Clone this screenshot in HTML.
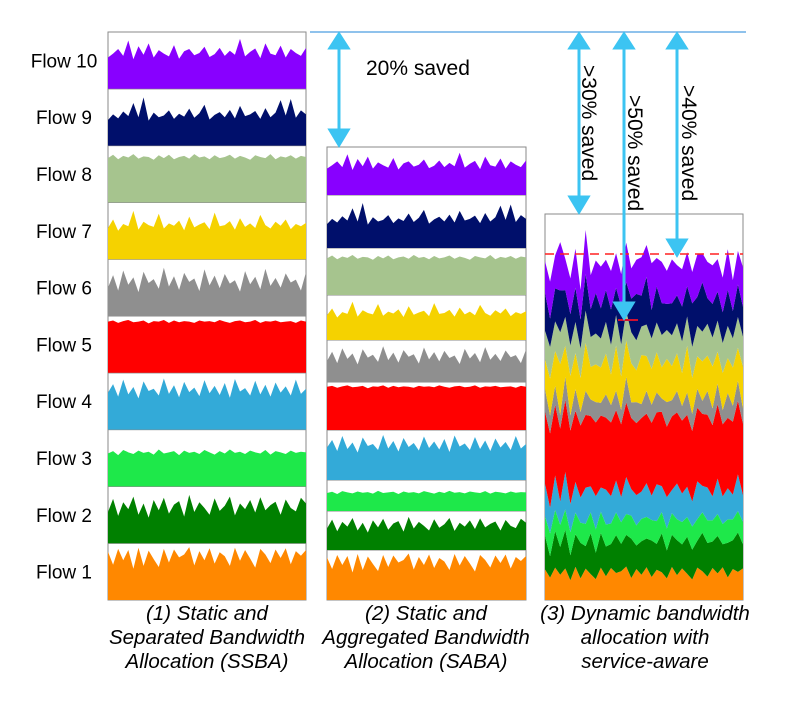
<!DOCTYPE html>
<html><head><meta charset="utf-8">
<style>
body{margin:0;background:#fff;}
svg{display:block;font-family:"Liberation Sans",sans-serif;}
</style></head>
<body>
<svg id="chart" width="792" height="706" viewBox="0 0 792 706">
<g id="layers"></g>
<g>
<line x1="310" y1="32" x2="746" y2="32" stroke="#6aaee6" stroke-width="1.5"/>
<g stroke="#3cc4f2" stroke-width="3" fill="#3cc4f2">
<line x1="339" y1="42" x2="339" y2="136"/>
<polygon points="330,48 348,48 339,34"/>
<polygon points="330,130 348,130 339,145"/>
<line x1="579" y1="42" x2="579" y2="202"/>
<polygon points="570,48 588,48 579,34"/>
<polygon points="570,197 588,197 579,212"/>
<line x1="624" y1="42" x2="624" y2="310"/>
<polygon points="615,48 633,48 624,34"/>
<polygon points="615,303 633,303 624,318"/>
<line x1="677" y1="42" x2="677" y2="245"/>
<polygon points="668,48 686,48 677,34"/>
<polygon points="668,240 686,240 677,255"/>
</g>
<text x="366" y="75" font-size="21">20% saved</text>
<text transform="translate(582,65) rotate(90)" font-size="21">&gt;30% saved</text>
<text transform="translate(628,95) rotate(90)" font-size="21">&gt;50% saved</text>
<text transform="translate(682,85) rotate(90)" font-size="21">&gt;40% saved</text>
</g>
<g font-size="20.5" font-style="italic" text-anchor="middle">
<text x="207" y="620">(1) Static and</text>
<text x="207" y="644">Separated Bandwidth</text>
<text x="207" y="668">Allocation  (SSBA)</text>
<text x="426" y="620">(2) Static and</text>
<text x="426" y="644">Aggregated Bandwidth</text>
<text x="426" y="668">Allocation (SABA)</text>
<text x="645" y="620">(3) Dynamic bandwidth</text>
<text x="645" y="644">allocation with</text>
<text x="645" y="668">service-aware</text>
</g>
</svg>
<script>
const flowNames = ["Flow 1","Flow 2","Flow 3","Flow 4","Flow 5","Flow 6","Flow 7","Flow 8","Flow 9","Flow 10"];
const flowColors = ["#ff8800","#008000","#1ee84a","#33aad8","#ff0000","#8f8f8f","#f5d200","#a6c48e","#000f6b","#8800ff"];
const flow1 = [85,62,90,70,88,55,92,60,87,72,58,90,66,89,75,80,93,61,86,70,91,64,84,77,60,92,69,88,73,57,90,80,65,89,74,91,63,86,78,88];
const flow2 = [55,78,48,72,60,82,50,70,45,76,58,80,52,68,74,47,85,55,72,62,50,79,57,66,82,49,70,60,76,54,81,58,67,73,50,77,62,56,80,70];
const flow3 = [58,62,55,64,60,57,63,59,61,56,65,58,60,62,55,63,59,61,57,64,60,56,62,58,65,59,61,57,63,60,58,64,56,62,60,57,63,59,61,60];
const flow4 = [65,80,58,88,62,75,55,85,68,72,60,90,63,78,57,84,66,74,59,87,64,77,61,82,56,89,67,73,60,86,62,79,58,83,65,76,60,88,63,72];
const flow5 = [90,92,88,91,93,89,90,92,87,91,90,93,88,92,89,91,90,88,92,90,91,89,93,90,88,91,92,89,90,93,88,91,90,92,89,90,91,88,92,90];
const flow6 = [50,72,45,80,55,68,42,78,58,65,48,85,52,70,46,76,60,66,44,82,54,71,49,74,57,63,43,79,56,69,47,83,53,67,50,75,59,64,45,77];
const flow7 = [55,70,50,62,58,85,52,66,60,57,80,54,63,59,68,51,75,56,61,65,53,82,58,60,67,52,72,57,63,55,78,60,54,66,59,70,53,62,58,64];
const flow8 = [78,84,76,82,79,85,77,81,80,75,83,78,84,76,80,82,77,85,79,81,76,83,78,80,84,77,82,79,75,83,80,78,85,76,81,79,83,77,82,80];
const flow9 = [45,55,48,60,52,75,50,85,44,58,50,53,62,47,56,51,65,49,57,72,46,54,59,50,63,48,70,52,55,61,47,66,50,58,80,53,82,49,62,55];
const flow10 = [55,62,70,58,85,52,75,60,80,55,68,62,57,77,53,66,70,59,63,74,56,61,72,58,67,60,88,57,65,71,54,80,62,59,76,55,70,63,58,72];
const flowValues = [flow1,flow2,flow3,flow4,flow5,flow6,flow7,flow8,flow9,flow10];

const NS = "http://www.w3.org/2000/svg";
const layers = document.getElementById("layers");
function mk(tag, attrs){const e=document.createElementNS(NS,tag);for(const k in attrs)e.setAttribute(k,attrs[k]);return e;}
function xScale(i,n,x0,w){return x0 + i*w/(n-1);}

const p1 = {x:108,w:198,top:32,bottom:600};
const p1h = (p1.bottom-p1.top)/10;
for(let f=0; f<10; f++){
  const y0 = p1.bottom - (f+1)*p1h;
  const r = mk("rect",{x:p1.x,y:y0,width:p1.w,height:p1h,fill:"#fff",stroke:"#8a8a8a","stroke-width":1});
  
  
  layers.appendChild(r);
  const v = flowValues[f];
  let pts = [[p1.x,y0+p1h]];
  v.forEach((d,i)=>pts.push([xScale(i,v.length,p1.x,p1.w), y0+p1h*(1-d/100)]));
  pts.push([p1.x+p1.w,y0+p1h]);
  const p = mk("polygon",{points:pts.map(q=>q.join(",")).join(" "),fill:flowColors[f]});
  
  
  layers.appendChild(p);
  const t = mk("text",{x:64,y:y0+p1h/2+7,"font-size":19,"text-anchor":"middle"});
  t.textContent = flowNames[f];
  
  
  document.getElementById("chart").appendChild(t);
}

const p2 = {x:327,w:199};
const p2Edges = [600,550,511,480,430,382,340,295,248,195,147];
for(let f=0; f<10; f++){
  const yb = p2Edges[f], yt = p2Edges[f+1], h = yb-yt;
  const r = mk("rect",{x:p2.x,y:yt,width:p2.w,height:h,fill:"#fff",stroke:"#8a8a8a","stroke-width":1});
  
  
  layers.appendChild(r);
  const v = flowValues[f];
  let pts = [[p2.x,yb]];
  v.forEach((d,i)=>pts.push([xScale(i,v.length,p2.x,p2.w), yt+h*(1-d/100)]));
  pts.push([p2.x+p2.w,yb]);
  const p = mk("polygon",{points:pts.map(q=>q.join(",")).join(" "),fill:flowColors[f]});
  
  
  layers.appendChild(p);
}

const p3 = {x:545,w:198,top:214,bottom:600};
const p3Scale = [36,48,36,42,80,30,60,38,58,55];
const frame = mk("rect",{x:p3.x,y:p3.top,width:p3.w,height:p3.bottom-p3.top,fill:"#fff",stroke:"#8a8a8a","stroke-width":1});


layers.appendChild(frame);
const n = flow1.length;
let base = new Array(n).fill(0);
for(let f=0; f<10; f++){
  const v = flowValues[f];
  const top = base.map((b,i)=>b + v[(i+f*7)%n]/100*p3Scale[f]);
  let pts = [];
  top.forEach((t,i)=>pts.push([xScale(i,n,p3.x,p3.w), p3.bottom - t]));
  for(let i=n-1;i>=0;i--) pts.push([xScale(i,n,p3.x,p3.w), p3.bottom - base[i]]);
  const p = mk("polygon",{points:pts.map(q=>q.join(",")).join(" "),fill:flowColors[f]});
  
  
  layers.appendChild(p);
  base = top;
}
const dl = mk("line",{x1:545,y1:254,x2:743,y2:254,stroke:"#ff2020","stroke-width":1.5,"stroke-dasharray":"9,6"});


layers.appendChild(dl);
const sl = mk("line",{x1:618,y1:320,x2:638,y2:320,stroke:"#d01030","stroke-width":2});


layers.appendChild(sl);
</script>
</body></html>
